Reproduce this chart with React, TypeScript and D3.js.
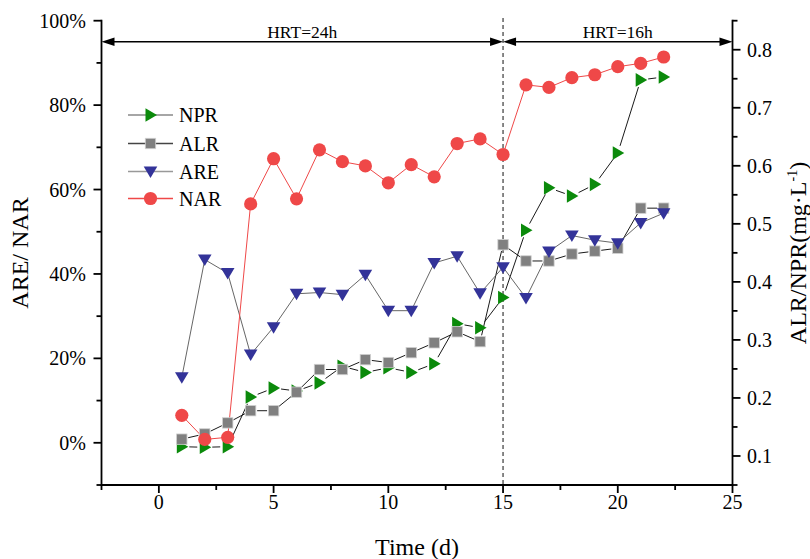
import React from "react";
import * as d3 from "d3";

const days = d3.range(1, 23);
const NAR = [6.5, 0.8, 1.3, 56.6, 67.3, 57.8, 69.4, 66.6, 65.6, 61.6, 65.9, 63.0, 70.9, 72.0, 68.3, 84.8, 84.2, 86.5, 87.2, 89.1, 89.9, 91.4];
const ARE = [15.5, 43.4, 40.2, 20.9, 27.4, 35.3, 35.6, 35.1, 39.8, 31.3, 31.3, 42.6, 44.2, 35.4, 41.6, 34.3, 45.3, 49.1, 48.0, 47.3, 52.1, 54.4];
const ALR = [0.129, 0.138, 0.157, 0.178, 0.178, 0.210, 0.249, 0.249, 0.266, 0.261, 0.278, 0.295, 0.314, 0.297, 0.464, 0.436, 0.436, 0.448, 0.453, 0.458, 0.527, 0.527];
const NPR = [0.116, 0.115, 0.116, 0.2016, 0.217, 0.212, 0.226, 0.2545, 0.244, 0.252, 0.244, 0.259, 0.328, 0.321, 0.373, 0.489, 0.562, 0.548, 0.568, 0.622, 0.748, 0.753];

const xTicks = [0, 5, 10, 15, 20, 25];
const leftTicks = [0, 20, 40, 60, 80, 100];
const rightTicks = [0.1, 0.2, 0.3, 0.4, 0.5, 0.6, 0.7, 0.8];
const periods = [
  { label: "HRT=24h", from: -2.5, to: 15 },
  { label: "HRT=16h", from: 15, to: 25 },
];

const W = 810, H = 559;
const FONT = "'Liberation Serif', 'Times New Roman', serif";
const x = d3.scaleLinear().domain([-2.5, 25]).range([101.5, 732.5]);
const yL = d3.scaleLinear().domain([-10, 100]).range([485, 20.7]);
const yR = d3.scaleLinear().domain([0.05, 0.85]).range([485, 20.7]);

const GREEN = "#0b8a0b", GRAY = "#808080", BLUE = "#333399", RED = "#ef4848";

type MK = "right" | "square" | "down" | "circle";
function Marker({ kind, cx, cy }: { kind: MK; cx: number; cy: number }) {
  if (kind === "circle") return <circle cx={cx} cy={cy} r={6.6} fill={RED} />;
  if (kind === "square") return <rect x={cx - 5.2} y={cy - 5.2} width={10.4} height={10.4} fill={GRAY} stroke="#d0d0d0" strokeWidth={0.8} />;
  if (kind === "down") return <path d={`M${cx - 6.8},${cy - 5} L${cx + 6.8},${cy - 5} L${cx},${cy + 6.5} Z`} fill={BLUE} />;
  return <path d={`M${cx - 5},${cy - 6.8} L${cx - 5},${cy + 6.8} L${cx + 6.5},${cy} Z`} fill={GREEN} />;
}

// Origin-style line with a gap around each marker
function gapPath(pts: [number, number][], gap: number) {
  let d = "";
  for (let i = 0; i < pts.length - 1; i++) {
    const [x1, y1] = pts[i], [x2, y2] = pts[i + 1];
    const len = Math.hypot(x2 - x1, y2 - y1);
    if (len <= 2 * gap + 1) continue;
    const ux = (x2 - x1) / len, uy = (y2 - y1) / len;
    d += `M${x1 + ux * gap},${y1 + uy * gap}L${x2 - ux * gap},${y2 - uy * gap}`;
  }
  return d;
}

export default function App() {
  const ptsL = (vals: number[]) => vals.map((v, i) => [x(days[i]), yL(v)] as [number, number]);
  const ptsR = (vals: number[]) => vals.map((v, i) => [x(days[i]), yR(v)] as [number, number]);
  const line = d3.line();
  const series = [
    { name: "NPR", vals: NPR, path: gapPath(ptsR(NPR), 7.5), y: yR, kind: "right" as MK, stroke: "#1a1a1a", legStroke: "#888" },
    { name: "ALR", vals: ALR, path: gapPath(ptsR(ALR), 6.5), y: yR, kind: "square" as MK, stroke: "#1a1a1a", legStroke: "#444" },
    { name: "ARE", vals: ARE, path: line(ptsL(ARE)) || "", y: yL, kind: "down" as MK, stroke: "#666", legStroke: "#999" },
    { name: "NAR", vals: NAR, path: line(ptsL(NAR)) || "", y: yL, kind: "circle" as MK, stroke: RED, legStroke: RED },
  ];
  const top = 20.7, bottom = 485, left = x(-2.5), right = x(25);
  const xMinor = d3.range(-2.5, 25.01, 2.5);
  const lMinor = d3.range(-10, 100.1, 10);
  const rMinor = d3.range(0.05, 0.851, 0.05);
  const arrowY = 41.7;
  return (
    <svg width={W} height={H} style={{ position: "absolute", left: 0, top: 0, background: "#fff" }} fontFamily={FONT}>
      <rect width={W} height={H} fill="#fff" />
      <line x1={x(15)} x2={x(15)} y1={18} y2={bottom} stroke="#555" strokeWidth={1.4} strokeDasharray="4,3" />
      {periods.map((p) => {
        const a = x(p.from), b = x(p.to);
        return (
          <g key={p.label}>
            <line x1={a + 4} x2={b - 4} y1={arrowY} y2={arrowY} stroke="#000" strokeWidth={1.5} />
            <path d={`M${a},${arrowY} L${a + 13},${arrowY - 4.3} L${a + 13},${arrowY + 4.3} Z`} fill="#000" />
            <path d={`M${b},${arrowY} L${b - 13},${arrowY - 4.3} L${b - 13},${arrowY + 4.3} Z`} fill="#000" />
            <text x={(a + b) / 2} y={37.5} textAnchor="middle" fontSize={17.5}>{p.label}</text>
          </g>
        );
      })}
      {series.map((s) => (
        <path key={s.name} d={s.path} fill="none" stroke={s.stroke} strokeWidth={1} />
      ))}
      {series.map((s) => (
        <g key={s.name + "m"}>
          {s.vals.map((v, i) => <Marker key={i} kind={s.kind} cx={x(days[i])} cy={s.y(v)} />)}
        </g>
      ))}
      <g stroke="#000" strokeWidth={1.8} fill="none">
        <line x1={left} x2={left} y1={top - 0.9} y2={bottom + 0.9} />
        <line x1={right} x2={right} y1={top - 0.9} y2={bottom + 0.9} />
        <line x1={left} x2={right} y1={bottom} y2={bottom} />
        {xMinor.map((t, i) => {
          const major = i % 2 === 1;
          return <line key={"xt" + i} x1={x(t)} x2={x(t)} y1={bottom} y2={bottom + (major ? 8 : 5)} />;
        })}
        {lMinor.map((t, i) => {
          const major = i % 2 === 1;
          return <line key={"lt" + i} x1={left} x2={left - (major ? 8 : 5)} y1={yL(t)} y2={yL(t)} />;
        })}
        {rMinor.map((t, i) => {
          const major = i % 2 === 1;
          return <line key={"rt" + i} x1={right} x2={right + (major ? 8 : 5)} y1={yR(t)} y2={yR(t)} />;
        })}
      </g>
      {xTicks.map((t) => (
        <text key={"xl" + t} x={x(t)} y={508.5} textAnchor="middle" fontSize={20}>{t}</text>
      ))}
      {leftTicks.map((t) => (
        <text key={"ll" + t} x={86} y={yL(t) + 7} textAnchor="end" fontSize={20}>{t}%</text>
      ))}
      {rightTicks.map((t) => (
        <text key={"rl" + t} x={747} y={yR(t) + 7} textAnchor="start" fontSize={20}>{t.toFixed(1)}</text>
      ))}
      <text x={417} y={555} textAnchor="middle" fontSize={24}>Time (d)</text>
      <text transform="translate(28,253) rotate(-90)" textAnchor="middle" fontSize={24}>ARE/ NAR</text>
      <text transform="translate(806,253) rotate(-90)" textAnchor="middle" fontSize={24}>
        ALR/NPR(mg·L<tspan dy={-9} fontSize={14}>-1</tspan><tspan dy={9}>)</tspan>
      </text>
      {series.map((s, i) => {
        const ly = [115, 143.5, 171.5, 198.5][i];
        return (
          <g key={"lg" + s.name}>
            <line x1={128} x2={173} y1={ly} y2={ly} stroke={s.legStroke} strokeWidth={1.3} />
            <Marker kind={s.kind} cx={150.5} cy={ly} />
            <text x={179} y={ly + 7} fontSize={20}>{s.name}</text>
          </g>
        );
      })}
    </svg>
  );
}
